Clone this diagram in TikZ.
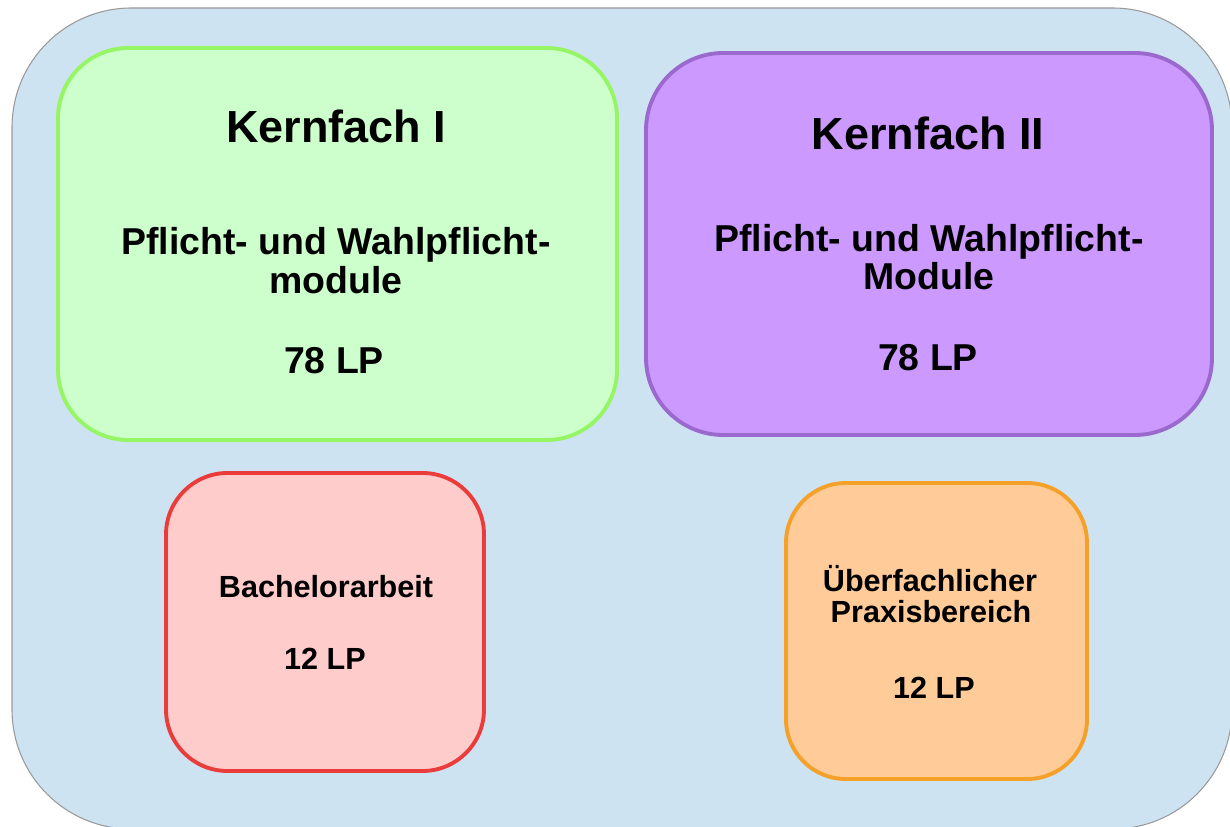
\documentclass[tikz,border=0pt]{standalone}
\usepackage{fontspec}
\setmainfont{Liberation Sans}
\definecolor{outerfill}{RGB}{206,227,241}
\definecolor{greenfill}{RGB}{204,255,204}
\definecolor{greenline}{RGB}{150,245,100}
\definecolor{purplefill}{RGB}{204,153,255}
\definecolor{purpleline}{RGB}{155,105,205}
\definecolor{redfill}{RGB}{255,204,204}
\definecolor{redline}{RGB}{235,60,60}
\definecolor{orangefill}{RGB}{255,204,153}
\definecolor{orangeline}{RGB}{245,160,40}
\begin{document}
\begin{tikzpicture}[x=0.02cm,y=-0.02cm,
  modbox/.style={line width=2.2pt},
  titletext/.style={anchor=base, font=\fontsize{25.6}{30}\selectfont\bfseries},
  maintext/.style={anchor=base, align=center, font=\fontsize{21.3}{21.8}\selectfont\bfseries},
  smalltext/.style={anchor=base, align=center, font=\fontsize{17.4}{18.2}\selectfont\bfseries}]
\useasboundingbox (0,0) rectangle (1230,827);
% background
\filldraw[fill=outerfill, draw=gray!80, line width=0.6pt, rounded corners=68pt] (12,8) rectangle (1232,829);
% boxes
\filldraw[modbox, fill=greenfill, draw=greenline, rounded corners=40pt] (58,48) rectangle (617,440);
\filldraw[modbox, fill=purplefill, draw=purpleline, rounded corners=44pt] (646,53) rectangle (1212,435);
\filldraw[modbox, fill=redfill, draw=redline, rounded corners=35pt] (166,473) rectangle (484,771);
\filldraw[modbox, fill=orangefill, draw=orangeline, rounded corners=34pt] (786,483) rectangle (1087,779);
% texts
\node[titletext] (k1title) at (336,143) {Kernfach I};
\node[maintext] (k1mod) at (336,255) {Pflicht- und Wahlpflicht-};
\node[maintext] (k1mod2) at (336,294) {module};
\node[maintext] (k1lp) at (334,374) {78 LP};
\node[titletext] (k2title) at (928,150) {Kernfach II};
\node[maintext] (k2mod) at (929,252) {Pflicht- und Wahlpflicht-};
\node[maintext] (k2mod2) at (929,290) {Module};
\node[maintext] (k2lp) at (928,371) {78 LP};
\node[smalltext] (bathesis) at (326,597) {Bachelorarbeit};
\node[smalltext] (balp) at (325,669) {12 LP};
\node[smalltext] (praxis) at (930,591) {Überfachlicher};
\node[smalltext] (praxis2) at (931,622) {Praxisbereich};
\node[smalltext] (praxislp) at (934,698) {12 LP};
\end{tikzpicture}
\end{document}
